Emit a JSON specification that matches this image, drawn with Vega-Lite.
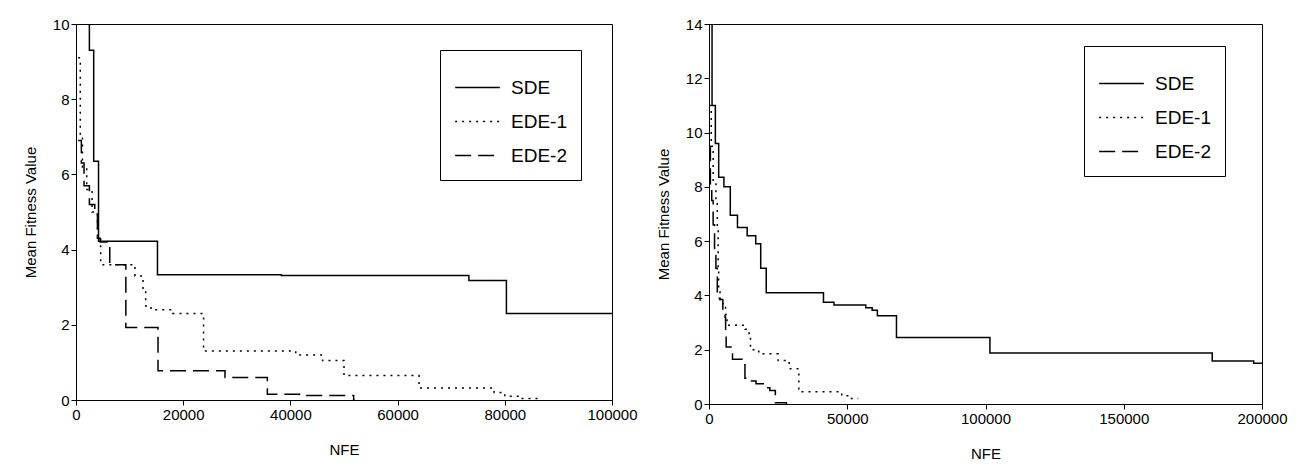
{
  "$schema": "https://vega.github.io/schema/vega-lite/v6.json",
  "padding": {"left": 22, "top": 16, "right": 20, "bottom": 5},
  "spacing": 17,
  "background": "white",
  "config": {
    "font": "Liberation Sans",
    "view": {"stroke": "black", "strokeWidth": 1},
    "axis": {
      "grid": false, "domainColor": "black", "tickColor": "black",
      "labelColor": "black", "titleColor": "black", "labelFontSize": 15,
      "titleFontSize": 15, "titleFontWeight": "normal", "labelFont": "Liberation Sans", "titleFont": "Liberation Sans"
    },
    "axisX": {"titlePadding": 20, "labelFlush": false, "labelOverlap": false},
    "axisY": {"titlePadding": 14},
    "legend": {
      "orient": "none", "title": null, "strokeColor": "black", "fillColor": "white",
      "padding": 14, "labelFontSize": 19, "labelColor": "black", "symbolType": "stroke",
      "symbolStrokeColor": "black", "symbolStrokeWidth": 1.5, "symbolSize": 2000,
      "rowPadding": -10, "labelOffset": 10, "labelFont": "Liberation Sans"
    }
  },
  "datasets": {
    "left": [
      {"s": "SDE", "nfe": 1500, "v": 11},
      {"s": "SDE", "nfe": 1900, "v": 10.2},
      {"s": "SDE", "nfe": 2500, "v": 9.3},
      {"s": "SDE", "nfe": 3300, "v": 6.35},
      {"s": "SDE", "nfe": 4200, "v": 4.22},
      {"s": "SDE", "nfe": 15200, "v": 3.33},
      {"s": "SDE", "nfe": 38300, "v": 3.31},
      {"s": "SDE", "nfe": 73300, "v": 3.18},
      {"s": "SDE", "nfe": 80300, "v": 2.3},
      {"s": "SDE", "nfe": 100000, "v": 2.3},
      {"s": "EDE-1", "nfe": 400, "v": 9.1},
      {"s": "EDE-1", "nfe": 800, "v": 7.0},
      {"s": "EDE-1", "nfe": 1200, "v": 6.2},
      {"s": "EDE-1", "nfe": 2000, "v": 5.6},
      {"s": "EDE-1", "nfe": 3000, "v": 5.0},
      {"s": "EDE-1", "nfe": 4000, "v": 4.3},
      {"s": "EDE-1", "nfe": 4600, "v": 3.6},
      {"s": "EDE-1", "nfe": 11000, "v": 3.3},
      {"s": "EDE-1", "nfe": 12500, "v": 2.9},
      {"s": "EDE-1", "nfe": 13000, "v": 2.5},
      {"s": "EDE-1", "nfe": 14000, "v": 2.4},
      {"s": "EDE-1", "nfe": 18000, "v": 2.3},
      {"s": "EDE-1", "nfe": 23800, "v": 1.3},
      {"s": "EDE-1", "nfe": 41000, "v": 1.2},
      {"s": "EDE-1", "nfe": 46000, "v": 1.05},
      {"s": "EDE-1", "nfe": 50000, "v": 0.65},
      {"s": "EDE-1", "nfe": 64000, "v": 0.32},
      {"s": "EDE-1", "nfe": 78000, "v": 0.2},
      {"s": "EDE-1", "nfe": 80000, "v": 0.1},
      {"s": "EDE-1", "nfe": 83000, "v": 0.04},
      {"s": "EDE-1", "nfe": 87000, "v": 0.04},
      {"s": "EDE-2", "nfe": 400, "v": 6.9},
      {"s": "EDE-2", "nfe": 1000, "v": 6.3},
      {"s": "EDE-2", "nfe": 1500, "v": 5.7},
      {"s": "EDE-2", "nfe": 2500, "v": 5.2},
      {"s": "EDE-2", "nfe": 3500, "v": 5.0},
      {"s": "EDE-2", "nfe": 4000, "v": 4.3},
      {"s": "EDE-2", "nfe": 4500, "v": 4.2},
      {"s": "EDE-2", "nfe": 6300, "v": 3.6},
      {"s": "EDE-2", "nfe": 9300, "v": 1.93},
      {"s": "EDE-2", "nfe": 15300, "v": 0.78},
      {"s": "EDE-2", "nfe": 27800, "v": 0.6},
      {"s": "EDE-2", "nfe": 35700, "v": 0.15},
      {"s": "EDE-2", "nfe": 43000, "v": 0.12},
      {"s": "EDE-2", "nfe": 51800, "v": 0.0},
      {"s": "EDE-2", "nfe": 52000, "v": 0.0}
    ],
    "right": [
      {"s": "SDE", "nfe": 300, "v": 14},
      {"s": "SDE", "nfe": 1100, "v": 11.0},
      {"s": "SDE", "nfe": 2300, "v": 9.6},
      {"s": "SDE", "nfe": 3500, "v": 8.35},
      {"s": "SDE", "nfe": 5400, "v": 8.0},
      {"s": "SDE", "nfe": 7700, "v": 6.95},
      {"s": "SDE", "nfe": 10300, "v": 6.5},
      {"s": "SDE", "nfe": 13800, "v": 6.2},
      {"s": "SDE", "nfe": 16900, "v": 5.9},
      {"s": "SDE", "nfe": 18700, "v": 5.0},
      {"s": "SDE", "nfe": 20700, "v": 4.1},
      {"s": "SDE", "nfe": 41400, "v": 3.75},
      {"s": "SDE", "nfe": 45200, "v": 3.65},
      {"s": "SDE", "nfe": 56700, "v": 3.55},
      {"s": "SDE", "nfe": 59000, "v": 3.45},
      {"s": "SDE", "nfe": 60900, "v": 3.25},
      {"s": "SDE", "nfe": 67800, "v": 2.45},
      {"s": "SDE", "nfe": 101600, "v": 1.88},
      {"s": "SDE", "nfe": 182000, "v": 1.58},
      {"s": "SDE", "nfe": 197000, "v": 1.5},
      {"s": "SDE", "nfe": 200000, "v": 1.5},
      {"s": "EDE-1", "nfe": 300, "v": 11},
      {"s": "EDE-1", "nfe": 800, "v": 9.5},
      {"s": "EDE-1", "nfe": 1500, "v": 8.2},
      {"s": "EDE-1", "nfe": 2500, "v": 7.5},
      {"s": "EDE-1", "nfe": 3000, "v": 6.5},
      {"s": "EDE-1", "nfe": 3300, "v": 5.0},
      {"s": "EDE-1", "nfe": 3500, "v": 4.2},
      {"s": "EDE-1", "nfe": 4000, "v": 3.8},
      {"s": "EDE-1", "nfe": 5000, "v": 3.6},
      {"s": "EDE-1", "nfe": 6000, "v": 3.3},
      {"s": "EDE-1", "nfe": 6500, "v": 2.9},
      {"s": "EDE-1", "nfe": 13000, "v": 2.75},
      {"s": "EDE-1", "nfe": 14500, "v": 2.5},
      {"s": "EDE-1", "nfe": 15000, "v": 2.0},
      {"s": "EDE-1", "nfe": 18000, "v": 1.85},
      {"s": "EDE-1", "nfe": 25000, "v": 1.6},
      {"s": "EDE-1", "nfe": 29000, "v": 1.3},
      {"s": "EDE-1", "nfe": 32500, "v": 0.45},
      {"s": "EDE-1", "nfe": 48000, "v": 0.3},
      {"s": "EDE-1", "nfe": 51000, "v": 0.2},
      {"s": "EDE-1", "nfe": 54000, "v": 0.2},
      {"s": "EDE-2", "nfe": 200, "v": 9.5},
      {"s": "EDE-2", "nfe": 500, "v": 8.1},
      {"s": "EDE-2", "nfe": 1000, "v": 7.5},
      {"s": "EDE-2", "nfe": 1500, "v": 6.6},
      {"s": "EDE-2", "nfe": 2000, "v": 5.7},
      {"s": "EDE-2", "nfe": 2500, "v": 5.0},
      {"s": "EDE-2", "nfe": 3000, "v": 3.9},
      {"s": "EDE-2", "nfe": 4000, "v": 3.85},
      {"s": "EDE-2", "nfe": 5000, "v": 3.4},
      {"s": "EDE-2", "nfe": 5800, "v": 3.2},
      {"s": "EDE-2", "nfe": 6000, "v": 2.7},
      {"s": "EDE-2", "nfe": 6200, "v": 2.1},
      {"s": "EDE-2", "nfe": 8500, "v": 1.65},
      {"s": "EDE-2", "nfe": 12000, "v": 1.45},
      {"s": "EDE-2", "nfe": 13000, "v": 0.95},
      {"s": "EDE-2", "nfe": 15000, "v": 0.85},
      {"s": "EDE-2", "nfe": 17000, "v": 0.75},
      {"s": "EDE-2", "nfe": 20000, "v": 0.6},
      {"s": "EDE-2", "nfe": 22000, "v": 0.5},
      {"s": "EDE-2", "nfe": 24000, "v": 0.05},
      {"s": "EDE-2", "nfe": 28000, "v": 0.0}
    ]
  },
  "hconcat": [
    {
      "width": 536, "height": 376,
      "data": {"name": "left"},
      "mark": {"type": "line", "interpolate": "step-after", "color": "black", "strokeWidth": 1.5, "clip": true},
      "encoding": {
        "x": {"field": "nfe", "type": "quantitative", "title": "NFE",
              "scale": {"domain": [0, 100000], "nice": false},
              "axis": {"values": [0, 20000, 40000, 60000, 80000, 100000], "format": "d"}},
        "y": {"field": "v", "type": "quantitative", "title": "Mean Fitness Value",
              "scale": {"domain": [0, 10], "nice": false},
              "axis": {"values": [0, 2, 4, 6, 8, 10]}},
        "strokeDash": {"field": "s", "type": "nominal",
              "scale": {"domain": ["SDE", "EDE-1", "EDE-2"], "range": [[1, 0], [2, 5], [16, 7]]},
              "legend": {"legendX": 364, "legendY": 26}}
      }
    },
    {
      "width": 553, "height": 380,
      "data": {"name": "right"},
      "mark": {"type": "line", "interpolate": "step-after", "color": "black", "strokeWidth": 1.5, "clip": true},
      "encoding": {
        "x": {"field": "nfe", "type": "quantitative", "title": "NFE",
              "scale": {"domain": [0, 200000], "nice": false},
              "axis": {"values": [0, 50000, 100000, 150000, 200000], "format": "d"}},
        "y": {"field": "v", "type": "quantitative", "title": "Mean Fitness Value",
              "scale": {"domain": [0, 14], "nice": false},
              "axis": {"values": [0, 2, 4, 6, 8, 10, 12, 14]}},
        "strokeDash": {"field": "s", "type": "nominal",
              "scale": {"domain": ["SDE", "EDE-1", "EDE-2"], "range": [[1, 0], [2, 5], [16, 7]]},
              "legend": {"legendX": 375, "legendY": 22}}
      }
    }
  ],
  "resolve": {"scale": {"strokeDash": "independent"}, "legend": {"strokeDash": "independent"}}
}
